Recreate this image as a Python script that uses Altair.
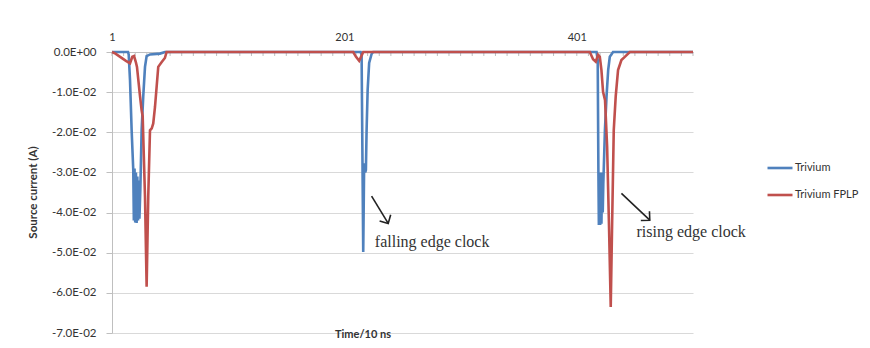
import altair as alt
import pandas as pd

# ---- data ----
series_names = ["Trivium", "Trivium FPLP"]

blue_t = [1, 14.8, 15.4, 16.5, 17.9, 19.3, 19.8, 20.4, 21.0, 21.6, 22.2, 22.8, 23.4, 24.0, 24.6, 25.4,
          26.5, 27.9, 29.4, 30.8, 33.7, 42.3, 46.6,
          215.0, 215.8, 217.2, 218.0, 218.9, 219.5, 220.1, 221.0, 222.3, 224.4, 225.8,
          418.0, 419.0, 419.6, 420.0, 420.6, 421.1, 421.7, 422.2, 422.8, 423.3, 423.8,
          425.2, 426.6, 428.0, 429.4, 432.2, 501]
blue_v = [0, 0, -0.0007, -0.007, -0.0195, -0.0294, -0.042, -0.029, -0.0425, -0.030, -0.0426, -0.031, -0.042, -0.032, -0.0415, -0.034,
          -0.0195, -0.011, -0.0037, -0.001, -0.0006, -0.0004, 0,
          0, -0.0007, -0.0498, -0.0277, -0.030, -0.0294, -0.0195, -0.0095, -0.0027, -0.0005, 0,
          0, -0.002, -0.030, -0.0431, -0.030, -0.0431, -0.031, -0.0428, -0.030, -0.040, -0.033,
          -0.0195, -0.011, -0.0045, -0.0012, 0, 0]

red_t = [1, 4, 8, 13, 16.5, 18.5, 20, 21.5, 22.5, 25.1, 26.5, 27.4, 29.4, 30.8, 32.2, 33.7, 35.2, 36.5, 38, 40.8, 43.8, 46.5, 48,
         208.6, 211, 213.7, 215.5, 217.2,
         412.2, 415.0, 417.3, 419.3, 420.8, 422.2, 423.6, 425.3, 427.1, 428.8, 430.2, 431.3, 432.8, 434.5, 436.5, 439.4, 442.3, 446.6, 501]
red_v = [0, -0.0004, -0.0012, -0.0022, -0.0028, -0.0012, -0.0010, -0.0025, -0.0037, -0.011, -0.0145, -0.016, -0.036, -0.0585, -0.036, -0.0195, -0.019, -0.0178, -0.0137, -0.0037, -0.0025, -0.0015, 0,
         0, -0.0012, -0.0022, -0.0011, 0,
         0, -0.0018, -0.0024, -0.0007, -0.0012, -0.0045, -0.0099, -0.012, -0.0236, -0.0444, -0.0635, -0.0444, -0.0195, -0.011, -0.0045, -0.002, -0.0012, 0, 0]

x_labels = [1, 201, 401]
y_ticks = [0, -0.01, -0.02, -0.03, -0.04, -0.05, -0.06, -0.07]
minor_ticks = list(range(1, 502, 10))

note_text = ["falling edge clock", "rising edge clock"]
note_t = [227.2, 452.4]
note_v = [-0.0473, -0.0448]
arrow_t0 = [224.4, 439.4]
arrow_v0 = [-0.0359, -0.0352]
arrow_t1 = [238.7, 463.8]
arrow_v1 = [-0.0427, -0.0419]
arrow_angle = [331, 313]

# ---- tables ----
df = pd.concat([
    pd.DataFrame({"t": blue_t, "v": blue_v, "series": series_names[0], "o": range(len(blue_t))}),
    pd.DataFrame({"t": red_t, "v": red_v, "series": series_names[1], "o": range(len(red_t))}),
])
notes = pd.DataFrame({"t": note_t, "v": note_v, "label": note_text})
arrows = pd.DataFrame({"t0": arrow_t0, "v0": arrow_v0, "t1": arrow_t1, "v1": arrow_v1, "ang": arrow_angle})
ticks = pd.DataFrame({"t": minor_ticks})

FONT = "Lato"
W, H = 581, 281

xscale = alt.Scale(domain=[1, 501], nice=False, zero=False)
yscale = alt.Scale(domain=[-0.07, 0], nice=False)

lines = alt.Chart(df).mark_line(strokeWidth=2.6, interpolate="linear").encode(
    x=alt.X("t:Q", scale=xscale,
            axis=alt.Axis(orient="top", values=x_labels, ticks=False, grid=False,
                          labelFont=FONT, labelFontSize=11, labelColor="#333333",
                          labelPadding=10, domainColor="#bfbfbf", title=None, labelFlush=False)),
    y=alt.Y("v:Q", scale=yscale,
            axis=alt.Axis(values=y_ticks, grid=True, gridColor="#d9d9d9", domainColor="#bfbfbf",
                          tickColor="#bfbfbf", tickSize=6, labelPadding=10,
                          labelFont=FONT, labelFontSize=11.5, labelColor="#333333",
                          labelExpr="datum.value == 0 ? '0.0E+00' : '-' + format(abs(datum.value)*100, '.1f') + 'E-02'",
                          title="Source current (A)", titleFont=FONT, titleFontSize=11.5,
                          titleFontWeight="bold", titleColor="#333333",
                          titleX=-79, titleY=140, titleAlign="center", titleBaseline="middle")),
    color=alt.Color("series:N", scale=alt.Scale(domain=series_names, range=["#4f81bd", "#c0504d"]),
                    legend=alt.Legend(orient="none", legendX=654, legendY=102, title=None,
                                      symbolType="stroke", symbolSize=625, symbolStrokeWidth=2.6,
                                      labelFont=FONT, labelFontSize=11, labelColor="#333333",
                                      labelOffset=1, rowPadding=7, padding=0, labelLimit=300)),
    order="o:Q",
)

minor = alt.Chart(ticks).mark_rule(color="#bfbfbf", strokeWidth=1).encode(
    x=alt.X("t:Q", scale=xscale), y=alt.value(0), y2=alt.value(4)
)

arrow_lines = alt.Chart(arrows).mark_rule(color="#222222", strokeWidth=1.6).encode(
    x=alt.X("t0:Q", scale=xscale), y=alt.Y("v0:Q", scale=yscale),
    x2="t1:Q", y2="v1:Q"
)
arrow_heads = alt.Chart(arrows).mark_point(shape="M-1,-1L0,0L1,-1", filled=False, size=160,
                                           color="#222222", strokeWidth=1.6, opacity=1).encode(
    x=alt.X("t1:Q", scale=xscale), y=alt.Y("v1:Q", scale=yscale),
    angle=alt.Angle("ang:Q", scale=None)
)
note_marks = alt.Chart(notes).mark_text(align="left", baseline="middle", font="Liberation Serif",
                                        fontSize=16, color="#333333").encode(
    x=alt.X("t:Q", scale=xscale), y=alt.Y("v:Q", scale=yscale), text="label:N"
)
xtitle = alt.Chart(pd.DataFrame({"s": ["Time/10 ns"]})).mark_text(
    font=FONT, fontSize=11, fontWeight="bold", color="#333333", baseline="middle"
).encode(x=alt.value(251), y=alt.value(283), text="s:N")

chart = alt.layer(minor, lines, arrow_lines, arrow_heads, note_marks, xtitle).properties(
    width=W, height=H,
    autosize=alt.AutoSizeParams(type="none"),
    padding={"left": 104, "top": 44, "right": 169, "bottom": 7},
    background="white",
).configure_view(stroke=None)

chart.save("out.html", embed_options={"renderer": "svg", "actions": False})
